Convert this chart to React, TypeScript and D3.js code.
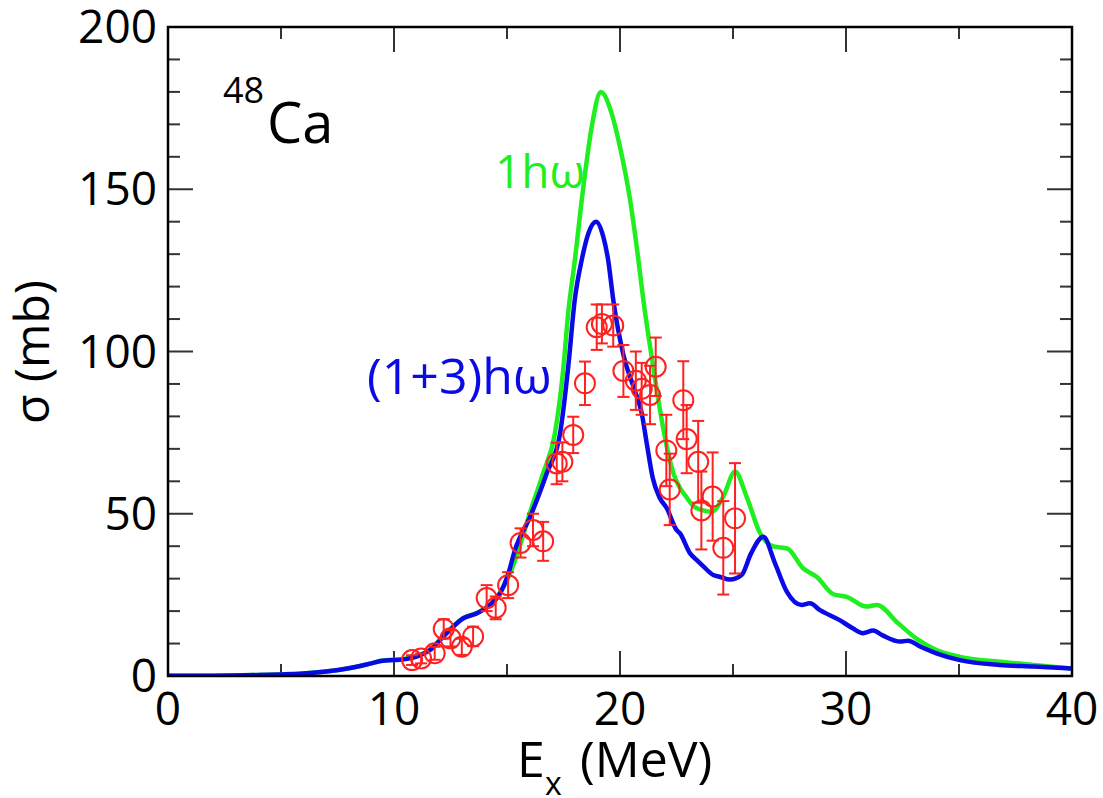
import React from "react";
import * as d3 from "d3";

// Green curve: 1hω calculation (E in MeV, sigma in mb)
const greenE = [0, 2, 4, 5, 6, 7, 8, 8.5, 9, 9.5, 10, 10.5, 11, 11.6, 12.33, 13.07, 13.66, 14.25, 14.7, 15.0, 15.5, 16.0, 16.6, 17.12, 17.5, 17.71, 18.0, 18.38, 18.75, 19.15, 19.63, 20.0, 20.44, 20.8, 21.03, 21.47, 21.9, 22.36, 22.65, 22.95, 23.24, 23.6, 24.06, 24.57, 25.09, 25.6, 26.2, 26.8, 27.4, 28.1, 28.7, 29.44, 30.03, 30.9, 31.36, 32.3, 33.1, 34.0, 35.04, 36.8, 38.3, 40];
const greenS = [0.1, 0.1, 0.3, 0.5, 0.8, 1.4, 2.4, 3.1, 3.9, 4.8, 5.0, 5.3, 6.1, 8.2, 13.4, 17.9, 19.4, 22.0, 25.8, 29.5, 38.5, 50, 62.5, 74.8, 95.3, 112, 128, 150.8, 169.3, 180, 173.4, 163, 147, 129, 116, 95.3, 76.8, 62.5, 58.0, 55.0, 52.4, 51.2, 50.6, 55.3, 63, 55.3, 44, 39.9, 39.3, 33.2, 30.6, 25.2, 24.4, 21.4, 21.9, 16.3, 11.6, 8.0, 5.9, 4.4, 3.4, 2.3];

// Blue curve: (1+3)hω calculation
const blueE = [0, 2, 4, 5, 6, 7, 8, 8.5, 9, 9.5, 10, 10.5, 11, 11.6, 12.33, 13.07, 13.66, 14.25, 14.7, 15.06, 15.35, 16.02, 16.76, 17.35, 17.71, 18.0, 18.3, 18.6, 18.94, 19.26, 19.48, 19.7, 20.15, 20.6, 20.96, 21.2, 21.45, 21.75, 22.07, 22.5, 22.65, 23.1, 23.4, 23.7, 24.13, 24.4, 24.87, 25.38, 25.8, 26.34, 26.86, 27.38, 28.04, 28.4, 28.85, 29.7, 30.3, 30.75, 31.2, 31.6, 32.4, 32.75, 33.3, 34.0, 35.04, 36.8, 38.3, 40];
const blueS = [0.1, 0.1, 0.3, 0.5, 0.8, 1.4, 2.4, 3.1, 3.9, 4.7, 4.9, 5.2, 6.0, 8.0, 13.2, 17.8, 19.3, 21.9, 25.5, 31.6, 38.8, 49, 62.5, 74.8, 95.3, 116, 128, 136.4, 140, 135.4, 128, 116, 99, 89, 81, 71, 61, 55, 51.7, 45, 44, 37.8, 35.7, 33.7, 31.1, 30.6, 29.7, 31.1, 37.8, 42.9, 34.7, 26, 21.9, 22.4, 20.3, 17.3, 14.7, 13.2, 14.0, 12.6, 10.6, 10.9, 9.0, 7.0, 4.9, 3.4, 2.9, 2.3];

// Experimental data points
const expE = [10.8, 11.2, 11.8, 12.2, 12.5, 13.0, 13.5, 14.1, 14.5, 15.05, 15.6, 16.15, 16.6, 17.2, 17.45, 17.93, 18.45, 18.97, 19.2, 19.7, 20.15, 20.7, 20.96, 21.33, 21.58, 22.05, 22.2, 22.8, 22.95, 23.46, 23.6, 24.1, 24.57, 25.09];
const expS = [4.9, 5.4, 7.0, 14.5, 11.6, 9.0, 12.2, 24, 21, 28, 41, 45, 41.5, 65.5, 66, 74.3, 90.2, 107.5, 108.5, 108, 94, 91, 88.5, 86.6, 95.3, 69.5, 57.5, 85, 73, 66, 51, 55.3, 39.5, 48.6];
const expErr = [1.5, 1.5, 2, 3, 2.5, 2.5, 3, 4, 3.5, 4, 4.5, 5, 6, 6.4, 6, 5.6, 6.7, 7, 6, 6.5, 8, 9, 8, 9, 9, 11, 11, 12, 10.5, 12.6, 12, 13.6, 14.4, 17];

const xMajor = [0, 10, 20, 30, 40];
const xMinor = [5, 15, 25, 35];
const yMajor = [0, 50, 100, 150, 200];
const yMinor = [10, 20, 30, 40, 60, 70, 80, 90, 110, 120, 130, 140, 160, 170, 180, 190];

const W = 1103;
const H = 798;
const L = 168, R = 1072, T = 27, B = 676;
const FONT = "'Open Sans', 'Noto Sans', sans-serif";

export default function App() {
  const x = d3.scaleLinear().domain([0, 40]).range([L, R]);
  const y = d3.scaleLinear().domain([0, 200]).range([B, T]);
  const line = d3
    .line<[number, number]>()
    .x((d) => x(d[0]))
    .y((d) => y(d[1]))
    .curve(d3.curveMonotoneX);
  const green = line(greenE.map((e, i) => [e, greenS[i]] as [number, number])) || "";
  const blue = line(blueE.map((e, i) => [e, blueS[i]] as [number, number])) || "";

  const majorLen = 25;
  const minorLen = 12;
  const tickColor = "#333";

  return (
    <svg width={W} height={H} style={{ position: "absolute", left: 0, top: 0, background: "#fff" }}>
      <defs>
        <clipPath id="plot">
          <rect x={L} y={T} width={R - L} height={B - T} />
        </clipPath>
      </defs>
      {/* ticks */}
      {xMajor.concat(xMinor).map((v) => {
        const len = xMajor.includes(v) ? majorLen : minorLen;
        return (
          <g key={"xt" + v} stroke={tickColor} strokeWidth={2}>
            <line x1={x(v)} x2={x(v)} y1={B} y2={B - len} />
            <line x1={x(v)} x2={x(v)} y1={T} y2={T + len} />
          </g>
        );
      })}
      {yMajor.concat(yMinor).map((v) => {
        const len = yMajor.includes(v) ? majorLen : minorLen;
        return (
          <g key={"yt" + v} stroke={tickColor} strokeWidth={2}>
            <line x1={L} x2={L + len} y1={y(v)} y2={y(v)} />
            <line x1={R} x2={R - len} y1={y(v)} y2={y(v)} />
          </g>
        );
      })}
      {/* curves */}
      <g clipPath="url(#plot)" fill="none" strokeLinejoin="round" strokeLinecap="round">
        <path d={green} stroke="#1fee1f" strokeWidth={4.5} />
        <path d={blue} stroke="#0a0ae6" strokeWidth={4.5} />
      </g>
      {/* data */}
      <g stroke="#ff2020" strokeWidth={2} fill="none">
        {expE.map((e, i) => {
          const cx = x(e);
          const cy = y(expS[i]);
          const y1 = y(expS[i] + expErr[i]);
          const y2 = y(expS[i] - expErr[i]);
          return (
            <g key={"p" + i}>
              <line x1={cx} x2={cx} y1={y1} y2={y2} />
              <line x1={cx - 6} x2={cx + 6} y1={y1} y2={y1} />
              <line x1={cx - 6} x2={cx + 6} y1={y2} y2={y2} />
              <circle cx={cx} cy={cy} r={10} />
            </g>
          );
        })}
      </g>
      {/* frame */}
      <rect x={L} y={T} width={R - L} height={B - T} fill="none" stroke="#000" strokeWidth={2.5} />
      {/* tick labels */}
      <g fontFamily={FONT} fontSize={46} fill="#000">
        {xMajor.map((v) => (
          <text key={"xl" + v} x={x(v)} y={725} textAnchor="middle">
            {v}
          </text>
        ))}
        {yMajor.map((v) => (
          <text key={"yl" + v} x={157} y={y(v) + 16} textAnchor="end">
            {v}
          </text>
        ))}
      </g>
      {/* axis titles */}
      <text transform="translate(49,352) rotate(-90)" textAnchor="middle" fontFamily={FONT} fontSize={48}>
        σ (mb)
      </text>
      <g fontFamily={FONT} fill="#000">
        <text x={517} y={777} fontSize={50}>E</text>
        <text x={545} y={795} fontSize={32}>x</text>
        <text x={580} y={777} fontSize={50}>(MeV)</text>
      </g>
      {/* annotations */}
      <g fontFamily={FONT}>
        <text x={223} y={103} fontSize={36}>48</text>
        <text x={267} y={143} fontSize={56}>Ca</text>
        <text x={495} y={188} fontSize={46} fill="#1fee1f">1hω</text>
        <text x={367} y={394} fontSize={50} fill="#0a0ae6">(1+3)hω</text>
      </g>
    </svg>
  );
}
